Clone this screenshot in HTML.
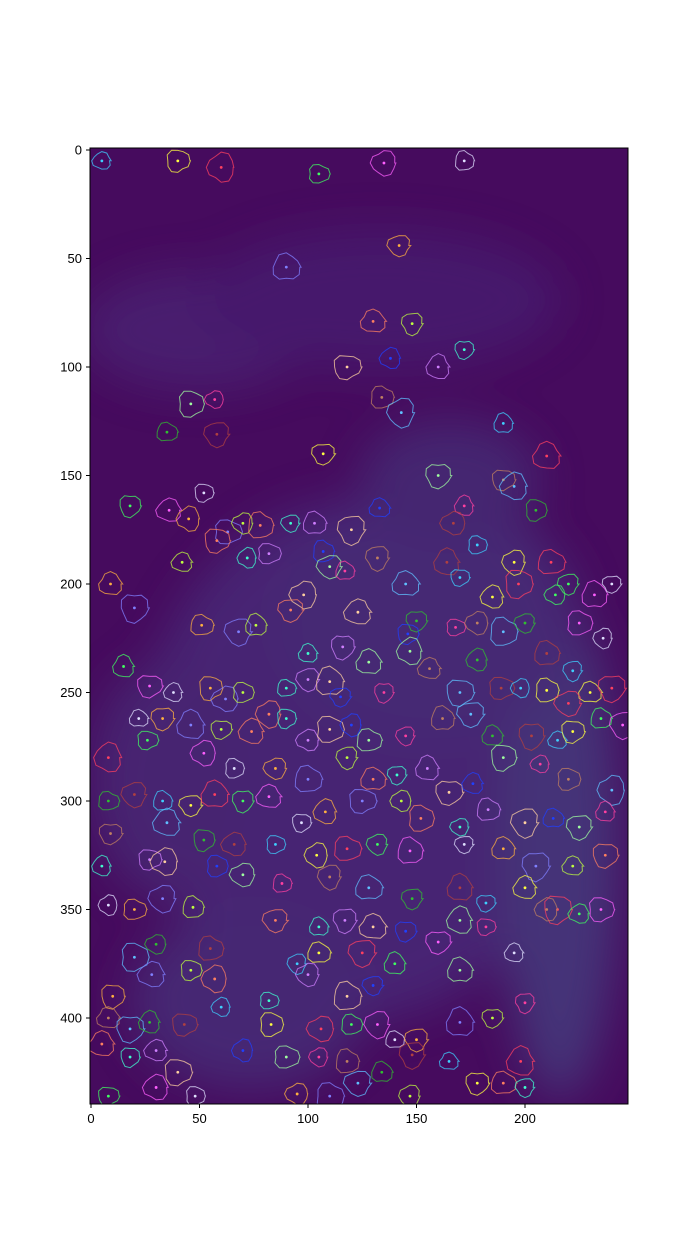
<!DOCTYPE html>
<html><head><meta charset="utf-8"><style>
html,body{margin:0;padding:0;background:#fff;}
svg text{font-family:"Liberation Sans",sans-serif;font-size:13px;fill:#000;}
</style></head><body>
<svg id="chart" width="700" height="1241" viewBox="0 0 700 1241" xmlns="http://www.w3.org/2000/svg">
<defs>
<filter id="blur" x="-50%" y="-50%" width="200%" height="200%"><feGaussianBlur stdDeviation="22"/></filter>
<clipPath id="clip"><rect x="90" y="148" width="538" height="956"/></clipPath>
</defs>
<g clip-path="url(#clip)">
<rect x="90" y="148" width="538" height="956" fill="#460b5e"/>
<g filter="url(#blur)" opacity="0.6">
<ellipse cx="200" cy="330" rx="120" ry="60" fill="#4b2a7a"/>
<ellipse cx="380" cy="300" rx="180" ry="70" fill="#472476"/>
<ellipse cx="360" cy="760" rx="220" ry="260" fill="#4a3482"/>
<ellipse cx="560" cy="850" rx="60" ry="250" fill="#44508a"/>
<ellipse cx="430" cy="620" rx="150" ry="120" fill="#463c84"/>
<ellipse cx="170" cy="780" rx="80" ry="120" fill="#48357f"/>
<ellipse cx="250" cy="1000" rx="120" ry="90" fill="#463a82"/>
<ellipse cx="450" cy="480" rx="90" ry="60" fill="#44397e"/>
</g>
<g id="cells"></g>
</g>
<rect x="90" y="148" width="538" height="956" fill="none" stroke="#000" stroke-width="1"/>
<g id="xaxis"></g>
<g id="yaxis"></g>
</svg>
<script>
const xTicks=[0,50,100,150,200];
const yTicks=[0,50,100,150,200,250,300,350,400];
const cellX=[5,40,60,105,135,172,142,90,148,130,172,160,118,138,46,57,134,143,35,58,190,107,210,18,36,52,45,63,70,78,92,103,120,133,160,172,190,195,205,167,178,195,212,220,232,240,9,20,42,58,72,82,98,107,110,117,132,145,150,164,170,185,197,214,225,236,51,68,76,92,100,116,123,146,147,168,178,190,200,210,222,230,240,15,27,38,55,62,70,82,90,100,110,115,128,135,156,170,178,189,198,210,220,235,245,22,33,46,60,74,90,100,110,120,128,145,162,175,185,203,215,222,8,26,52,66,85,100,118,130,141,155,165,176,190,207,220,240,8,20,33,46,57,70,82,97,108,125,143,152,170,183,200,213,225,237,9,35,52,66,85,104,118,132,147,172,190,205,222,237,5,27,34,58,70,88,110,128,148,170,182,200,215,225,235,8,20,33,47,85,105,117,130,145,170,182,210,20,30,55,95,105,125,140,160,195,10,28,46,57,82,100,118,130,170,200,8,18,27,43,60,83,106,120,132,140,150,170,185,5,18,30,40,70,90,105,118,123,134,148,165,178,198,8,30,48,95,110,147,190,200];
const cellY=[5,5,8,11,6,5,44,54,80,79,92,100,100,96,117,115,114,121,130,131,126,140,141,164,166,158,170,176,172,173,172,172,175,165,150,164,152,155,166,172,182,190,190,200,205,200,200,211,190,180,188,186,205,185,192,194,188,200,217,190,197,206,200,205,218,225,219,222,219,212,232,229,213,223,231,220,218,222,218,232,240,250,248,238,247,250,248,253,250,260,248,244,245,252,236,250,239,250,235,248,248,249,255,262,265,262,262,265,267,268,262,272,267,265,272,270,262,260,270,270,272,268,280,272,278,285,285,290,280,290,288,285,296,292,280,283,290,295,300,297,300,302,297,300,298,310,305,300,300,308,312,304,310,308,312,305,315,310,318,320,320,325,322,320,323,320,322,330,330,325,330,327,328,330,334,338,335,340,345,340,347,340,350,352,350,348,350,345,349,355,358,355,358,360,355,358,350,372,366,368,375,370,370,375,365,370,390,380,378,382,392,380,390,385,378,393,400,405,402,403,395,403,405,403,403,410,410,402,400,412,418,415,425,415,418,418,420,430,425,417,420,430,420,436,432,436,435,436,436,430,432];
const palette=["#3fd0ff","#ffff40","#ff4060","#40ff60","#ff60ff","#e0e0ff","#ffb040","#8080ff","#c0ff40","#ff8060","#40ffd0","#d080ff","#ffd0a0","#2040ff","#a0ffa0","#ff40a0","#c08060","#60c0ff","#30c030","#b04040"];
const X0=91,S=2.17,Y0=150;
const sx=v=>X0+v*S, sy=v=>Y0+v*S;
const NS="http://www.w3.org/2000/svg";
const cells=document.getElementById('cells');
for(let i=0;i<cellX.length;i++){
  const cx=sx(cellX[i]),cy=sy(cellY[i]);
  const base=9+((i*7)%5);
  let d="";
  for(let k=0;k<=12;k++){
    const a=k/12*Math.PI*2;
    const r=base*(0.85+0.3*Math.abs(Math.sin(i*1.7+k*2.3)));
    const px=cx+r*Math.cos(a),py=cy+r*Math.sin(a)*(0.9+((i%3)*0.08));
    d+=(k?"L":"M")+px.toFixed(1)+","+py.toFixed(1);
  }
  const c=palette[i%palette.length];
  const p=document.createElementNS(NS,'path');
  p.setAttribute('d',d+"Z");p.setAttribute('fill','none');p.setAttribute('stroke',c);p.setAttribute('stroke-width','1');p.setAttribute('opacity','0.75');
  
  
  cells.appendChild(p);
  const dot=document.createElementNS(NS,'circle');
  dot.setAttribute('cx',cx);dot.setAttribute('cy',cy);dot.setAttribute('r','1.4');dot.setAttribute('fill',c);
  
  
  cells.appendChild(dot);
}
const xa=document.getElementById('xaxis');
xTicks.forEach(v=>{
  const x=sx(v);
  const l=document.createElementNS(NS,'line');
  l.setAttribute('x1',x);l.setAttribute('x2',x);l.setAttribute('y1',1104);l.setAttribute('y2',1108);l.setAttribute('stroke','#000');
  
  
  xa.appendChild(l);
  const t=document.createElementNS(NS,'text');
  t.setAttribute('x',x);t.setAttribute('y',1123);t.setAttribute('text-anchor','middle');t.textContent=v;
  
  
  xa.appendChild(t);
});
const ya=document.getElementById('yaxis');
yTicks.forEach(v=>{
  const y=sy(v);
  const l=document.createElementNS(NS,'line');
  l.setAttribute('x1',86);l.setAttribute('x2',90);l.setAttribute('y1',y);l.setAttribute('y2',y);l.setAttribute('stroke','#000');
  
  
  ya.appendChild(l);
  const t=document.createElementNS(NS,'text');
  t.setAttribute('x',82);t.setAttribute('y',y+4.5);t.setAttribute('text-anchor','end');t.textContent=v;
  
  
  ya.appendChild(t);
});
</script>
</body></html>
